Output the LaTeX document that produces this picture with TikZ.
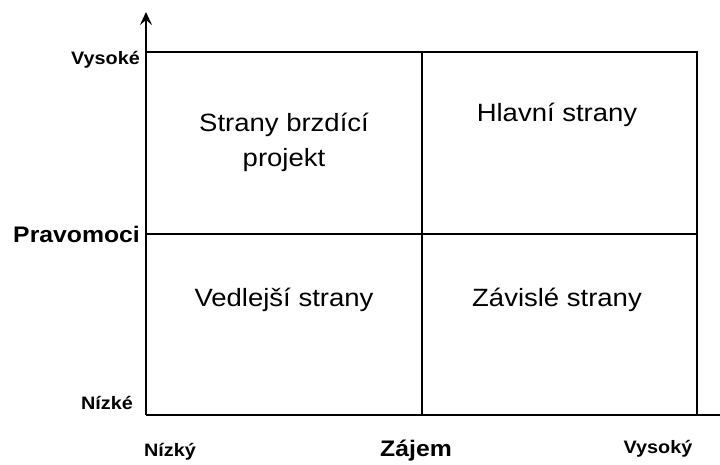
\documentclass[tikz,border=0pt]{standalone}
\usepackage{fontspec}
\setmainfont{Liberation Sans}[FakeStretch=1.1]
\usetikzlibrary{arrows.meta}

\begin{document}
\begin{tikzpicture}[x=1pt,y=1pt,
    axislabel/.style={font=\bfseries\fontsize{18}{20}\selectfont, inner sep=0pt},
    axistitle/.style={font=\bfseries\fontsize{22.5}{26}\selectfont, inner sep=0pt},
    quadtext/.style={font=\fontsize{25}{35}\selectfont, inner sep=0pt, align=center}]
    \useasboundingbox (0,0) rectangle (720,465);

    % Các điểm góc
    \coordinate (O) at (146,50);
    \coordinate (ytop) at (146,453);
    \coordinate (xend) at (720,50);
    \coordinate (tl) at (146,413);
    \coordinate (tr) at (697,413);
    \coordinate (br) at (697,50);
    \coordinate (tm) at (422,413);
    \coordinate (bm) at (422,50);
    \coordinate (ml) at (146,231);
    \coordinate (mr) at (697,231);

    % Vẽ các trục
    \draw[line width=2.6pt,-{Stealth[length=13pt,width=12pt,inset=5pt]}] (O) -- (ytop); % Trục dọc
    \draw[line width=2.6pt] (O) -- (xend); % Trục ngang

    % Khung và đường chia
    \draw[line width=2.4pt] (tl) -- (tr) -- (br);
    \draw[line width=1.5pt] (tm) -- (bm);
    \draw[line width=1.5pt] (ml) -- (mr);

    % Nhãn trục
    \node[axislabel,anchor=base east] (yhigh) at (140,400) {Vysoké};
    \node[axistitle,anchor=base east] (ytitle) at (140,222) {Pravomoci};
    \node[axislabel,anchor=base east] (ylow) at (133,55) {Nízké};
    \node[axislabel,anchor=base] (xlow) at (170,8) {Nízký};
    \node[axistitle,anchor=base] (xtitle) at (416,8) {Zájem};
    \node[axislabel,anchor=base] (xhigh) at (658,11.5) {Vysoký};

    % Các ô
    \node[quadtext,anchor=base] (brake) at (284,298) {Strany brzdící\\projekt};
    \node[quadtext,anchor=base] (key) at (557,343) {Hlavní strany};
    \node[quadtext,anchor=base] (minor) at (284,158) {Vedlejší strany};
    \node[quadtext,anchor=base] (depend) at (557,158) {Závislé strany};

\end{tikzpicture}
\end{document}
